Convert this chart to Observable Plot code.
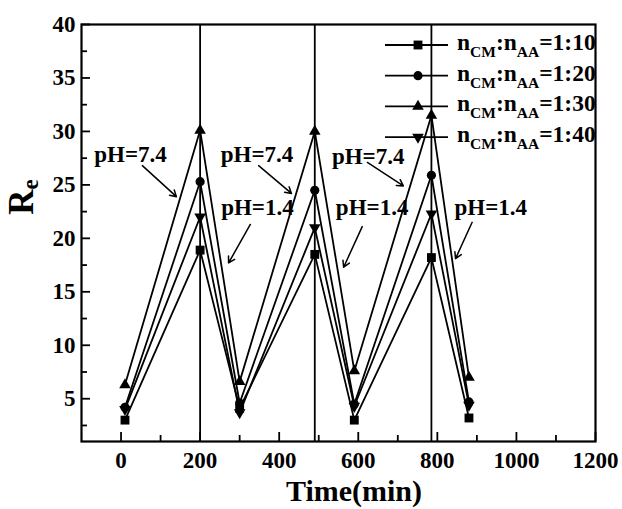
<!DOCTYPE html>
<html><head><meta charset="utf-8">
<script src="https://cdn.jsdelivr.net/npm/d3@7"></script>
<script src="https://cdn.jsdelivr.net/npm/@observablehq/plot@0.6"></script>
<style>
body{margin:0;background:#fff}
#chart{width:622px;height:509px;position:relative}
</style>
</head><body><div id="chart"></div>
<script>
// ---- data ----
const times = [10, 200, 300, 490, 590, 785, 880];
const seriesNames = ["1:10", "1:20", "1:30", "1:40"];
const re110 = [3.0, 18.9, 4.1, 18.5, 3.0, 18.2, 3.2];
const re120 = [4.2, 25.3, 4.6, 24.5, 4.5, 25.9, 4.7];
const re130 = [6.3, 30.1, 6.6, 30.0, 7.6, 31.5, 7.0];
const re140 = [4.0, 22.0, 3.7, 21.0, 4.3, 22.3, 4.4];
const peakTimes = [200, 490, 785];

const xTicks = [0, 200, 400, 600, 800, 1000, 1200];
const xMinor = [100, 300, 500, 700, 900, 1100];
const yTicks = [5, 10, 15, 20, 25, 30, 35, 40];
const yMinor = [2.5, 7.5, 12.5, 17.5, 22.5, 27.5, 32.5, 37.5];

const phText = ["pH=7.4", "pH=7.4", "pH=7.4", "pH=1.4", "pH=1.4", "pH=1.4"];
const phX = [24, 344, 625, 345, 635, 935];
const phY = [27.8, 27.8, 27.6, 22.9, 22.9, 22.9];
const arrX1 = [54, 348, 623, 327, 610, 888];
const arrY1 = [26.8, 26.8, 27.1, 21.3, 21.1, 21.5];
const arrX2 = [140, 431, 714, 272, 563, 846];
const arrY2 = [23.9, 24.2, 24.9, 17.7, 17.3, 18.1];

// ---- tables ----
const seriesVals = [re110, re120, re130, re140];
const rows = seriesNames.flatMap((s, i) => times.map((t, j) => ({t, v: seriesVals[i][j], s})));
const phTable = phText.map((text, i) => ({text, x: phX[i], y: phY[i]}));
const arrows = arrX1.map((x1, i) => ({x1, y1: arrY1[i], x2: arrX2[i], y2: arrY2[i]}));

const triangleDown = {
  draw(ctx, size) {
    const y = -Math.sqrt(size / (Math.sqrt(3) * 3));
    ctx.moveTo(0, -y * 2);
    ctx.lineTo(-Math.sqrt(3) * y, y);
    ctx.lineTo(Math.sqrt(3) * y, y);
    ctx.closePath();
  }
};
const symbols = [d3.symbolSquare, d3.symbolCircle, d3.symbolTriangle, triangleDown];
const radii = [5.0, 4.6, 4.3, 4.3];

const font = "Liberation Serif, LiberationSerif, Times New Roman, Times, serif";
const sw = 1.8;

const dots = seriesNames.map((s, i) =>
  Plot.dot(rows.filter(d => d.s === s), {x: "t", y: "v", symbol: () => symbols[i], r: radii[i], fill: "black", stroke: "none"})
);

const chart = Plot.plot({
  width: 622, height: 509,
  marginLeft: 81, marginRight: 27, marginTop: 24, marginBottom: 68,
  x: {domain: [-100, 1200]},
  y: {domain: [1, 40]},
  symbol: {type: "identity"},
  style: {fontFamily: font, fontWeight: "bold", fontSize: "22px", color: "black", background: "white"},
  marks: [
    Plot.ruleX(peakTimes, {stroke: "black", strokeWidth: sw}),
    Plot.line(rows, {x: "t", y: "v", z: "s", stroke: "black", strokeWidth: sw}),
    ...dots,
    Plot.arrow(arrows, {x1: "x1", y1: "y1", x2: "x2", y2: "y2", stroke: "black", strokeWidth: 1.5, headLength: 7, bend: 0}),
    Plot.text(phTable, {x: "x", y: "y", text: "text", fontSize: 23, fontWeight: "bold", fill: "black"}),
    Plot.axisX({ticks: xTicks, tickFormat: d3.format("d"), tickSize: 0, tickPadding: 10, label: null, fontSize: 23}),
    Plot.axisX({ticks: xTicks, tickSize: 9, dy: -9, text: null, label: null, strokeWidth: sw}),
    Plot.axisX({ticks: xMinor, tickSize: 6, dy: -6, text: null, label: null, strokeWidth: sw}),
    Plot.axisY({ticks: yTicks, tickFormat: d3.format("d"), tickSize: 0, tickPadding: 6, label: null, fontSize: 23}),
    Plot.axisY({ticks: yTicks, tickSize: 9, dx: 9, text: null, label: null, strokeWidth: sw}),
    Plot.axisY({ticks: yMinor, tickSize: 6, dx: 6, text: null, label: null, strokeWidth: sw}),
    Plot.frame({stroke: "black", strokeWidth: 2.2})
  ]
});
document.getElementById("chart").appendChild(chart);

const svg = d3.select(chart);
// axis titles
svg.append("text").attr("x", 354).attr("y", 501).attr("text-anchor", "middle")
  .style("font-family", font).style("font-weight", "bold").style("font-size", "30px").text("Time(min)");
const yl = svg.append("text").attr("transform", "translate(33,197) rotate(-90)").attr("text-anchor", "middle")
  .style("font-family", font).style("font-weight", "bold").style("font-size", "35px");
yl.append("tspan").text("R");
yl.append("tspan").attr("dy", 5).style("font-size", "23px").text("e");

// legend
const lg = svg.append("g");
seriesNames.forEach((s, i) => {
  const y = 45 + i * 30.7;
  lg.append("line").attr("x1", 385).attr("x2", 448).attr("y1", y).attr("y2", y).attr("stroke", "black").attr("stroke-width", sw);
  lg.append("path").attr("transform", `translate(418,${y})`)
    .attr("d", d3.symbol(symbols[i], Math.PI * radii[i] * radii[i])()).attr("fill", "black");
  const t = lg.append("text").attr("x", 457).attr("y", y + 5).attr("text-anchor", "start")
    .style("font-family", font).style("font-weight", "bold").style("font-size", "23.5px");
  t.append("tspan").text("n");
  t.append("tspan").attr("dy", 7).style("font-size", "15.5px").text("CM");
  t.append("tspan").attr("dy", -7).text(":n");
  t.append("tspan").attr("dy", 7).style("font-size", "15.5px").text("AA");
  t.append("tspan").attr("dy", -7).text("=" + s);
});
</script>
</body></html>
